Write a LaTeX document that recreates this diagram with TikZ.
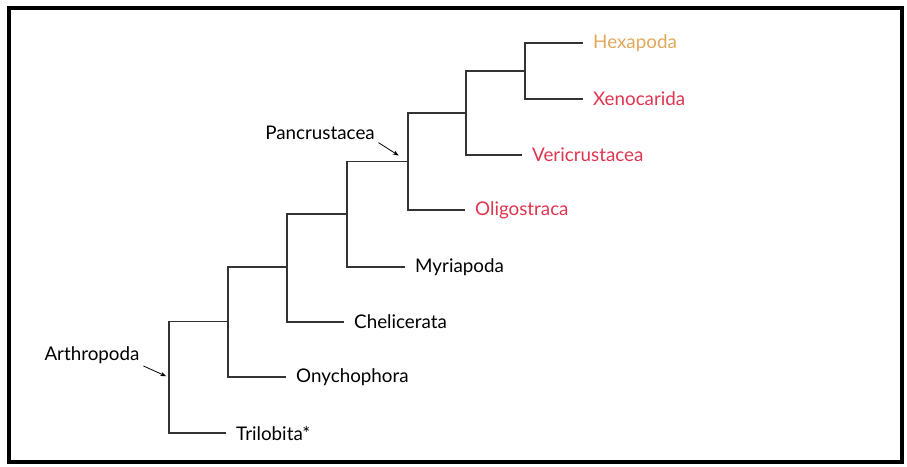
\documentclass[tikz,border=0pt]{standalone}
\usepackage{fontspec}
\setmainfont{Lato}
\usetikzlibrary{arrows.meta}
\definecolor{hexcol}{HTML}{E2A85A}
\definecolor{crucol}{HTML}{E0344F}
\definecolor{branchcol}{HTML}{333333}

\begin{document}
\begin{tikzpicture}[x=1pt,y=-1pt,
    branch/.style={draw=branchcol, line width=1.7pt},
    leaf/.style={anchor=west, inner xsep=10pt, inner ysep=0pt, font=\fontsize{18.8}{21}\selectfont},
    clade/.style={inner sep=1pt, font=\fontsize{18.8}{21}\selectfont},
    pointer/.style={-{Stealth[length=6pt,width=4.5pt]}, line width=0.8pt}]
  \useasboundingbox (0,0) rectangle (907,466);
  \draw[line width=3.5pt] (9,8) rectangle (902,462);
  % branch points
  \coordinate (n1) at (169,377.5);
  \coordinate (n2) at (228,321.5);
  \coordinate (n3) at (287,267);
  \coordinate (n4) at (347,214);
  \coordinate (n5) at (408,161.5);
  \coordinate (n6) at (466,113);
  \coordinate (n7) at (525,71);
  % leaves
  \node[leaf] (tri) at (226,433) {Trilobita*};
  \node[leaf] (ony) at (286,377) {Onychophora};
  \node[leaf] (che) at (344,322) {Chelicerata};
  \node[leaf] (myr) at (405,267) {Myriapoda};
  \node[leaf, text=crucol] (oli) at (465,210) {Oligostraca};
  \node[leaf, text=crucol] (ver) at (522,155) {Vericrustacea};
  \node[leaf, text=crucol] (xen) at (583,99) {Xenocarida};
  \node[leaf, text=hexcol] (hex) at (583,43) {Hexapoda};
  % tree
  \draw[branch] (n1) |- (n2);
  \draw[branch] (n1) |- (tri.west);
  \draw[branch] (n2) |- (n3);
  \draw[branch] (n2) |- (ony.west);
  \draw[branch] (n3) |- (n4);
  \draw[branch] (n3) |- (che.west);
  \draw[branch] (n4) |- (n5);
  \draw[branch] (n4) |- (myr.west);
  \draw[branch] (n5) |- (n6);
  \draw[branch] (n5) |- (oli.west);
  \draw[branch] (n6) |- (n7);
  \draw[branch] (n6) |- (ver.west);
  \draw[branch] (n7) |- (hex.west);
  \draw[branch] (n7) |- (xen.west);
  % clade labels
  \node[clade] (arth) at (92,355) {Arthropoda};
  \node[clade] (pan) at (320,133) {Pancrustacea};
  \draw[pointer, shorten <=3pt, shorten >=3pt] (arth.south east) -- (n1);
  \draw[pointer, shorten <=3pt, shorten >=11pt] (pan.south east) -- (n5);
\end{tikzpicture}
\end{document}
